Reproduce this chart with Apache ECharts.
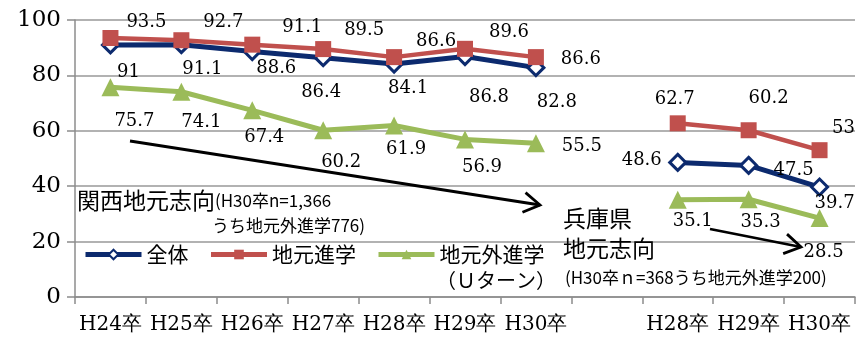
<!DOCTYPE html>
<html><head><meta charset="utf-8">
<script src="https://cdn.jsdelivr.net/npm/echarts@6/dist/echarts.min.js"></script>
<style>html,body{margin:0;padding:0;background:#fff}#c{width:856px;height:338px}</style>
</head><body><div id="c"></div>
<script>
const categories = ['H24卒','H25卒','H26卒','H27卒','H28卒','H29卒','H30卒','','H28卒','H29卒','H30卒'];
const yTicks = [0,20,40,60,80,100];
const kansaiTotal = [91,91.1,88.6,86.4,84.1,86.8,82.8];
const kansaiLocal = [93.5,92.7,91.1,89.5,86.6,89.6,86.6];
const kansaiOut   = [75.7,74.1,67.4,60.2,61.9,56.9,55.5];
const hyogoTotal  = [48.6,47.5,39.7];
const hyogoLocal  = [62.7,60.2,53];
const hyogoOut    = [35.1,35.3,28.5];
const seriesNames = ['全体','地元進学','地元外進学'];

// label offsets (layout only)
const offTotal = [[18,27],[21,25],[24,17],[-2,35],[14,24],[24,41],[21,35],null,[-36,-2],[45,5],[15,16]];
const offLocal = [[36,-16],[42,-18],[50,-17],[41,-19],[42,-16],[44,-16],[45,2],null,[-3,-24],[20,-32],[24,-22]];
const offOut   = [[24,34],[20,31],[12,27],[18,32],[12,24],[17,28],[46,3],null,[15,22],[12,23],[4,34]];

function build(k, h, offs){
  const vals = [...k, null, ...h];
  return vals.map((v,i)=> v===null ? null : ({value:v, label:{offset:offs[i]}}));
}
const serif = 'DejaVu Serif';
const sans = 'Noto Sans CJK JP';
const chart = echarts.init(document.getElementById('c'));
const lbl = {show:true, position:'inside', fontFamily:serif, fontSize:18, color:'#000'};
chart.setOption({
  animation:false,
  grid:{left:75, right:1, top:20, bottom:41},
  legend:{
    left:78, top:239, itemWidth:56, itemHeight:12, itemGap:20,
    lineStyle:{width:5},
    textStyle:{fontFamily:sans, fontSize:21, color:'#000'},
    data:seriesNames
  },
  xAxis:{
    type:'category', data:categories, boundaryGap:true,
    axisLine:{lineStyle:{color:'#8c8c8c', width:1.5}},
    axisTick:{show:true, interval:0, length:7, lineStyle:{color:'#8c8c8c', width:1.5}},
    axisLabel:{interval:0, margin:18, fontFamily:serif, fontSize:20, color:'#000'}
  },
  yAxis:{
    type:'value', min:yTicks[0], max:yTicks[yTicks.length-1], interval:20,
    axisLine:{show:true, lineStyle:{color:'#8c8c8c', width:1.5}},
    axisTick:{show:true, length:8, lineStyle:{color:'#8c8c8c', width:1.5}},
    splitLine:{lineStyle:{color:'#999', width:1.5}},
    axisLabel:{margin:14, fontFamily:serif, fontSize:23, color:'#000'}
  },
  series:[
    {name:seriesNames[0], type:'line', z:3, data:build(kansaiTotal,hyogoTotal,offTotal),
     symbol:'diamond', symbolSize:16, showAllSymbol:true,
     lineStyle:{color:'#0c2a6e', width:5}, itemStyle:{color:'#fff', borderColor:'#0c2a6e', borderWidth:3},
     label:lbl},
    {name:seriesNames[1], type:'line', z:4, data:build(kansaiLocal,hyogoLocal,offLocal),
     symbol:'rect', symbolSize:16, showAllSymbol:true,
     lineStyle:{color:'#c0504d', width:4.5}, itemStyle:{color:'#c0504d'},
     label:lbl},
    {name:seriesNames[2], type:'line', z:3, data:build(kansaiOut,hyogoOut,offOut),
     symbol:'triangle', symbolSize:18, showAllSymbol:true,
     lineStyle:{color:'#9bbb59', width:5}, itemStyle:{color:'#9bbb59'},
     label:lbl}
  ]
});

function arrow(x1,y1,x2,y2){
  const a = Math.atan2(y2-y1,x2-x1), L=19, s=0.55;
  const p1=[x2-L*Math.cos(a-s), y2-L*Math.sin(a-s)];
  const p2=[x2-L*Math.cos(a+s), y2-L*Math.sin(a+s)];
  return [
    {type:'line', shape:{x1,y1,x2,y2}, style:{stroke:'#000', lineWidth:2.8}, z:10},
    {type:'polyline', shape:{points:[p1,[x2,y2],p2]}, style:{stroke:'#000', lineWidth:2.8, fill:null, lineJoin:'miter'}, z:10}
  ];
}
chart.setOption({graphic:[
  ...arrow(130,141,540,205),
  ...arrow(710,229,801,247),
  {type:'text', left:77, top:189, z:10, style:{text:'{a|関西地元志向}{b|(H30卒n=1,366}', rich:{
    a:{fontFamily:sans, fontSize:23, fill:'#000'}, b:{fontFamily:sans, fontSize:17, fill:'#000'}}}},
  {type:'text', left:212, top:217, z:10, style:{text:'うち地元外進学776)', fontFamily:sans, fontSize:17, fill:'#000'}},
  {type:'text', left:436, top:270, z:10, style:{text:'（Ｕターン）', fontFamily:sans, fontSize:20, fill:'#000'}},
  {type:'text', left:563, top:207, z:10, style:{text:'兵庫県', fontFamily:sans, fontSize:23, fill:'#000'}},
  {type:'text', left:563, top:237, z:10, style:{text:'地元志向', fontFamily:sans, fontSize:23, fill:'#000'}},
  {type:'text', left:565, top:269, z:10, style:{text:'(H30卒ｎ=368うち地元外進学200)', fontFamily:sans, fontSize:17, fill:'#000'}}
]});
</script></body></html>
